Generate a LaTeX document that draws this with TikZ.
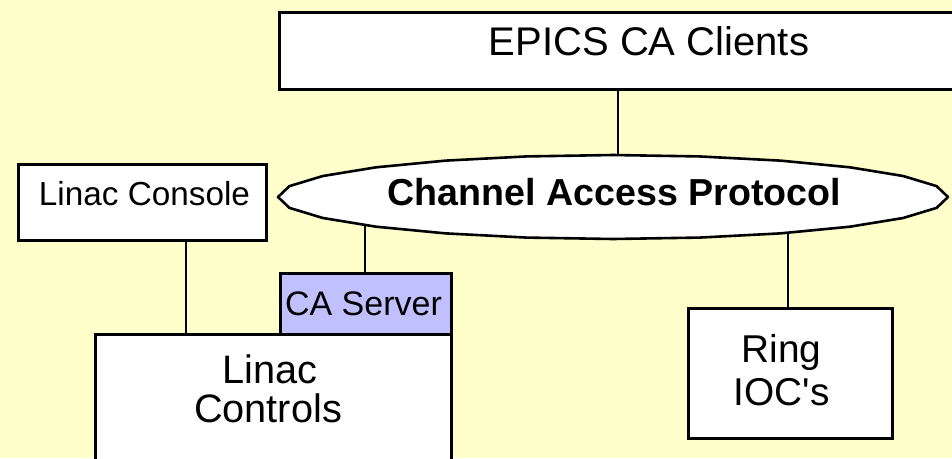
\documentclass[tikz,border=0pt]{standalone}
\usepackage{fontspec}
\setmainfont{Liberation Sans}
% same face without the TeX quote mapping, so ' stays straight
\newfontfamily\plainsans{Liberation Sans}
\definecolor{paper}{HTML}{FFFFCC}
\definecolor{serverfill}{HTML}{C0C0FF}
\tikzset{
  box/.style={draw=black, line width=2.6pt, fill=white, rectangle,
              inner sep=0pt, anchor=north west},
  wire/.style={draw=black, line width=1.8pt},
  lbl/.style={inner sep=0pt, anchor=base, text=black},
  txt/.style 2 args={font=\fontsize{#1}{#2}\selectfont},
  boldtxt/.style 2 args={font=\fontsize{#1}{#2}\selectfont\bfseries},
}
\begin{document}
\begin{tikzpicture}[x=1pt, y=-1pt]
  % page area and background
  \useasboundingbox (0,0) rectangle (952,458);
  \fill[paper] (0,0) rectangle (952,458);
  \clip (0,0) rectangle (952,458);

  % boxes
  \node[box, minimum width=742pt, minimum height=77pt] (clients) at (278,11) {};
  \node[box, minimum width=248pt, minimum height=76pt] (console) at (17,163) {};
  \node[box, minimum width=204pt, minimum height=130pt] (ring) at (687,307) {};
  \node[box, minimum width=356pt, minimum height=187pt] (controls) at (94,333) {};
  \node[box, fill=serverfill, minimum width=171pt, minimum height=61pt] (server) at (279,272) {};

  % channel access bus: a faceted ellipse
  \coordinate (cap) at (613,197);
  \filldraw[fill=white, draw=black, line width=2.6pt, line join=round]
    plot[samples at={0,15,...,345}] ({613+335*cos(\x)},{197+42*sin(\x)}) -- cycle;
  \coordinate (capTop) at (618,156);
  \coordinate (capServer) at (365,224);
  \coordinate (capRing) at (788,232);

  % connectors
  \draw[wire] (capTop) -- (capTop |- clients.south);
  \draw[wire] (capServer) -- (capServer |- server.north);
  \draw[wire] (capRing) -- (capRing |- ring.north);
  \coordinate (consoleFoot) at (186,239);
  \draw[wire] (consoleFoot) -- (consoleFoot |- controls.north);

  % labels
  \node[lbl, txt={40}{40}] (clientsText) at (649,55) {EPICS CA Clients};
  \node[lbl, boldtxt={37.6}{38}] (capText) at (614.5,205) {Channel Access Protocol};
  \node[lbl, txt={33.3}{34}] (consoleText) at (144.5,205) {Linac Console};
  \node[lbl, txt={34}{34}] (serverText) at (363.5,315) {CA Server};
  \node[lbl, txt={39.7}{40}] (controlsA) at (270,383) {Linac};
  \node[lbl, txt={39.7}{40}] (controlsB) at (268,422) {Controls};
  \node[lbl, txt={38.8}{40}] (ringA) at (781.5,362) {Ring};
  \node[lbl, txt={38.8}{40}] (ringB) at (781.5,405) {\plainsans IOC's};
\end{tikzpicture}
\end{document}
